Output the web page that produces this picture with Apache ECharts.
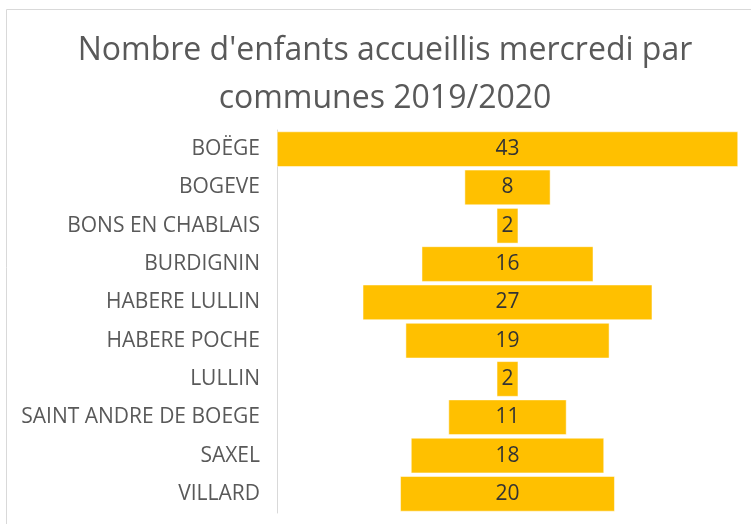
<!DOCTYPE html>
<html>
<head>
<meta charset="utf-8">
<script src="https://cdn.jsdelivr.net/npm/echarts@6/dist/echarts.min.js"></script>
<style>
  html, body { margin: 0; padding: 0; background: #fff; }
  #main { width: 751px; height: 524px; }
</style>
</head>
<body>
<div id="main"></div>
<script>
const communes = ['BOËGE', 'BOGEVE', 'BONS EN CHABLAIS', 'BURDIGNIN', 'HABERE LULLIN',
  'HABERE POCHE', 'LULLIN', 'SAINT ANDRE DE BOEGE', 'SAXEL', 'VILLARD'];
const enfants = [43, 8, 2, 16, 27, 19, 2, 11, 18, 20];

const maxVal = Math.max(...enfants);
// décalage invisible pour centrer les barres
const offset = enfants.map(v => (maxVal - v) / 2);

const chart = echarts.init(document.getElementById('main'));
const font = 'Open Sans';
chart.setOption({
  animation: false,
  title: {
    text: "Nombre d'enfants accueillis mercredi par\ncommunes 2019/2020",
    left: 380,
    textAlign: 'center',
    top: 22,
    textStyle: { fontFamily: font, fontSize: 32, fontWeight: 'normal', color: '#595959', lineHeight: 48 },
  },
  graphic: [{
    type: 'rect',
    shape: { x: 6.5, y: 9.5, width: 800, height: 600 },
    style: { fill: 'none', stroke: '#d9d9d9', lineWidth: 1 },
  }],
  grid: { left: 277, right: 13, top: 130, bottom: 11 },
  xAxis: { type: 'value', min: 0, max: maxVal, show: false },
  yAxis: {
    type: 'category',
    inverse: true,
    data: communes,
    axisLine: { show: true, lineStyle: { color: '#d9d9d9' } },
    axisTick: { show: false },
    axisLabel: { fontFamily: font, fontSize: 21, color: '#595959', margin: 17 },
  },
  series: [
    {
      type: 'bar', stack: 'f', data: offset,
      itemStyle: { color: 'transparent' },
      barCategoryGap: '8%',
      silent: true,
    },
    {
      type: 'bar', stack: 'f', data: enfants,
      itemStyle: { color: '#FFC000', borderColor: '#fff', borderWidth: 0.5 },
      label: { show: true, position: 'inside', fontFamily: font, fontSize: 21, color: '#333333' },
    },
  ],
});
</script>
</body>
</html>
